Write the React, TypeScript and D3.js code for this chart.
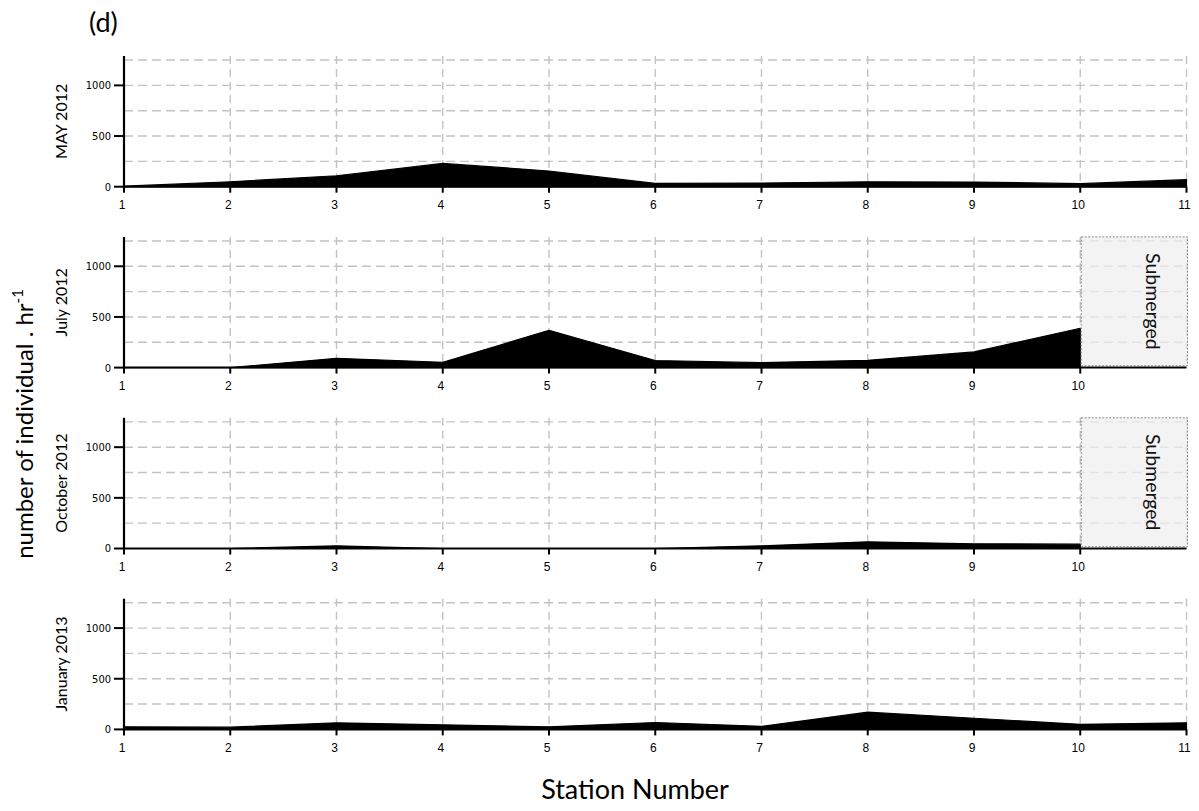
import React from 'react';
import * as d3 from 'd3';

// Sampling stations along the transect
const stations = [1, 2, 3, 4, 5, 6, 7, 8, 9, 10, 11];

// Abundance (individuals per hour) for each survey; null = station not sampled
const may2012 = [5, 49, 108, 230, 155, 32, 36, 49, 46, 30, 69];
const july2012 = [0, 0, 92, 53, 368, 70, 49, 72, 155, 388, null];
const october2012 = [0, 0, 26, 0, 0, 0, 26, 66, 46, 43, null];
const january2013 = [25, 22, 65, 45, 25, 68, 30, 170, 110, 50, 65];

const surveyLabels = ['MAY 2012', 'July 2012', 'October 2012', 'January 2013'];
const surveySeries = [may2012, july2012, october2012, january2013];
const submergedFlags = [false, true, true, false];

const yTickValues = [0, 500, 1000];
const yGridValues = [250, 500, 750, 1000, 1250];
const yMax = 1290;

const W = 1199;
const H = 811;
const left = 124;
const right = 1186.5;
const firstTop = 56;
const panelStep = 180.9;
const panelH = 130.7;

const sansFont = "Lato, 'Open Sans', sans-serif";
const tickFont = "'DejaVu Sans Condensed', 'DejaVu Sans', sans-serif";
const xTickFont = "'Liberation Sans', Arial, sans-serif";
const gridColor = '#c3c3c3';

function Panel({ index }: { index: number }) {
  const top = firstTop + index * panelStep;
  const values = surveySeries[index];
  const submerged = submergedFlags[index];

  const x = d3.scaleLinear().domain([1, 11]).range([left, right]);
  const y = d3.scaleLinear().domain([0, yMax]).range([top + panelH, top]);

  const pts = stations.map((s, i) => ({ s, v: values[i] }));
  const area = d3
    .area<{ s: number; v: number | null }>()
    .defined((d) => d.v !== null)
    .x((d) => x(d.s))
    .y0(y(0))
    .y1((d) => y(d.v as number));

  const tickStations = submerged ? stations.filter((s) => s <= 10) : stations;
  const zero = y(0);

  return (
    <g>
      {/* horizontal grid */}
      {yGridValues.map((v) => (
        <line
          key={'h' + v}
          x1={x(1)}
          x2={x(11)}
          y1={y(v)}
          y2={y(v)}
          stroke={gridColor}
          strokeWidth={1.4}
          strokeDasharray="9,5"
        />
      ))}
      {/* vertical grid */}
      {stations.slice(1).map((s) => (
        <line
          key={'v' + s}
          x1={x(s)}
          x2={x(s)}
          y1={y(yMax)}
          y2={zero}
          stroke={gridColor}
          strokeWidth={1.4}
          strokeDasharray="8,5"
        />
      ))}

      {/* abundance profile */}
      <path d={area(pts) || ''} fill="#000" stroke="#000" strokeWidth={1.2} strokeLinejoin="round" />

      {/* submerged stretch */}
      {submerged && (
        <g>
          <rect
            x={x(10) + 1}
            y={y(yMax)}
            width={x(11) - x(10)}
            height={y(18) - y(yMax)}
            fill="#efefef"
            fillOpacity={0.72}
            stroke="#8a8a8a"
            strokeWidth={1}
            strokeDasharray="2,1.5"
          />
          <text
            transform={`translate(${x(10) + 66},${(y(yMax) + y(18)) / 2}) rotate(90)`}
            textAnchor="middle"
            fontFamily={sansFont}
            fontSize={19.5}
            fill="#111"
          >
            Submerged
          </text>
        </g>
      )}

      {/* x axis */}
      <line x1={x(1)} x2={x(11)} y1={zero} y2={zero} stroke="#000" strokeWidth={2} />
      {tickStations.map((s) => (
        <g key={'xt' + s}>
          <line x1={x(s)} x2={x(s)} y1={zero} y2={zero + 6} stroke="#000" strokeWidth={2} />
          <text
            x={x(s) - 2}
            y={zero + 22.5}
            textAnchor="middle"
            fontFamily={xTickFont}
            fontSize={12}
            fill="#000"
          >
            {s}
          </text>
        </g>
      ))}

      {/* y axis */}
      <line x1={left} x2={left} y1={y(yMax)} y2={zero + 1} stroke="#000" strokeWidth={2.2} />
      {yTickValues.map((v) => (
        <g key={'yt' + v}>
          <line x1={left - 10} x2={left} y1={y(v)} y2={y(v)} stroke="#000" strokeWidth={2} />
          <text
            x={left - 13}
            y={y(v)}
            dy="0.36em"
            textAnchor="end"
            fontFamily={tickFont}
            fontStretch="condensed"
            fontSize={11}
            fill="#000"
          >
            {v}
          </text>
        </g>
      ))}

      {/* survey label */}
      <text
        transform={`translate(67,${top + panelH / 2}) rotate(-90)`}
        textAnchor="middle"
        fontFamily={sansFont}
        fontSize={16}
        fill="#000"
      >
        {surveyLabels[index]}
      </text>
    </g>
  );
}

export default function App() {
  return (
    <svg
      width={W}
      height={H}
      viewBox={`0 0 ${W} ${H}`}
      style={{ position: 'absolute', left: 0, top: 0, background: '#fff' }}
    >
      <rect x={0} y={0} width={W} height={H} fill="#fff" />
      <text x={89} y={32} fontFamily={sansFont} fontSize={27} fill="#000">
        (d)
      </text>
      {surveyLabels.map((_, i) => (
        <Panel key={i} index={i} />
      ))}
      <text
        transform="translate(33,424) rotate(-90)"
        textAnchor="middle"
        fontFamily={sansFont}
        fontSize={24}
        fill="#000"
      >
        number of individual . hr
        <tspan fontSize={15} dy={-10}>
          -1
        </tspan>
      </text>
      <text x={635} y={799} textAnchor="middle" fontFamily={sansFont} fontSize={27} fill="#000">
        Station Number
      </text>
    </svg>
  );
}
